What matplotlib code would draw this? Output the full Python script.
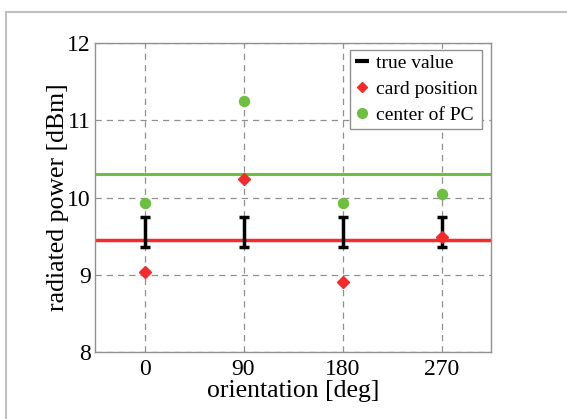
import matplotlib
matplotlib.use("Agg")
import matplotlib.pyplot as plt
from matplotlib.lines import Line2D
from matplotlib.patches import Rectangle

orientation = [0, 90, 180, 270]
card_position = [9.03, 10.24, 8.90, 9.49]
center_pc = [9.93, 11.245, 9.93, 10.04]
true_value = [9.555, 9.555, 9.555, 9.555]
true_err = [0.195, 0.195, 0.195, 0.195]
card_mean = 9.45
center_mean = 10.31

plt.rcParams['font.family'] = ['Liberation Serif', 'DejaVu Serif']

RED = '#f52a2a'
GREEN = '#6cbf3f'

fig = plt.figure(figsize=(5.67, 4.19), dpi=100)
ax = fig.add_axes([95/567, 1-352/419, (491-95)/567, (352-43)/419])

fig.patches.append(Rectangle((6/567, -0.1), 1.2, 1-12/419+0.1, transform=fig.transFigure,
                             fill=False, edgecolor='#c0c0c0', linewidth=1.5, zorder=0))

ax.axhline(center_mean, color=GREEN, lw=2.2, zorder=2)
ax.axhline(card_mean, color=RED, lw=2.5, zorder=2)
ax.errorbar(orientation, true_value, yerr=true_err, fmt='none', ecolor='black',
            elinewidth=2.5, capsize=3.5, capthick=2.5, zorder=3)
ax.plot(orientation, card_position, linestyle='none', marker='D', markersize=6.5,
        color=RED, zorder=4)
ax.plot(orientation, center_pc, linestyle='none', marker='o', markersize=7.2,
        color=GREEN, zorder=4)

ax.set_xlim(-45, 315)
ax.set_ylim(8, 12)
ax.set_xticks(orientation)
ax.set_yticks([8, 9, 10, 11, 12])
ax.tick_params(length=0, labelsize=17, colors='black')
ax.tick_params(axis='y', pad=3)
ax.tick_params(axis='x', pad=5)
ax.grid(True, linestyle=(0, (5, 4)), color='#909090', linewidth=0.9)
ax.set_axisbelow(True)
for s in ax.spines.values():
    s.set_color('#909090')
    s.set_linewidth(1)

ax.set_xlabel('orientation [deg]', fontsize=18.5, labelpad=0)
ax.set_ylabel('radiated power [dBm]', fontsize=18.5, labelpad=-1)

handles = [
    Line2D([], [], color='black', marker='_', markersize=10, markeredgewidth=3, linestyle='none'),
    Line2D([], [], color=RED, marker='D', markersize=5.5, linestyle='none'),
    Line2D([], [], color=GREEN, marker='o', markersize=7, linestyle='none'),
]
leg = ax.legend(handles, ['true value', 'card position', 'center of PC'],
                loc='upper right', bbox_to_anchor=(0.978, 0.978), fontsize=14,
                fancybox=False, framealpha=1, edgecolor='#909090',
                handlelength=0.8, handletextpad=0.3, borderpad=0.25, labelspacing=0.42,
                borderaxespad=0)
leg.get_frame().set_linewidth(1)

fig.savefig('out.png', dpi=100)
